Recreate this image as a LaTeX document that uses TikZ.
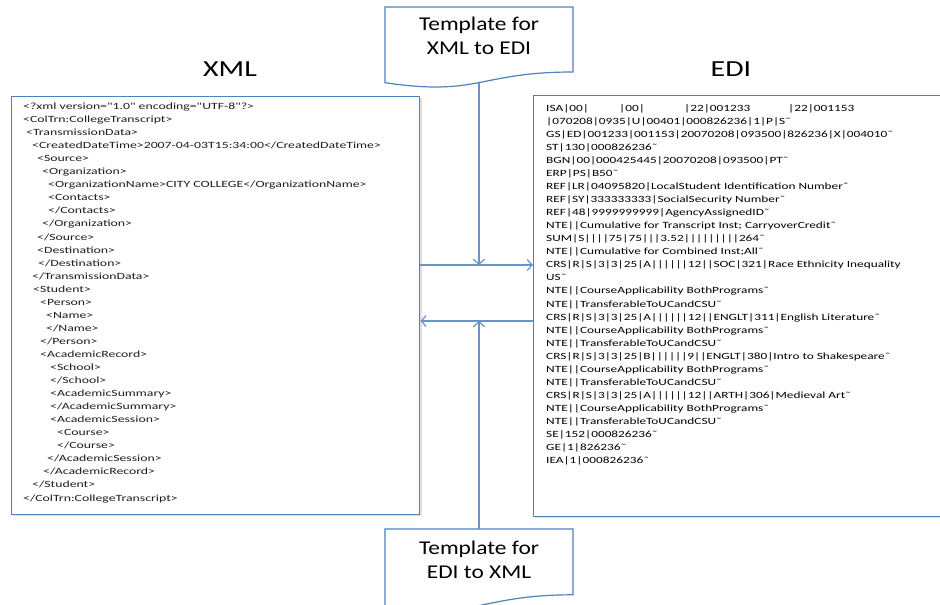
\documentclass[tikz,border=0pt]{standalone}
\usepackage{fontspec}
\usetikzlibrary{arrows.meta}
\newfontfamily\xmlfont[FakeStretch=1.45]{Carlito}
\newfontfamily\edifont[FakeStretch=1.4]{Carlito}
\newfontfamily\titlefont[FakeStretch=1.3]{Carlito}
\newfontfamily\tplfont[FakeStretch=1.2]{Carlito}
\definecolor{boxblue}{RGB}{79,129,189}
\definecolor{txt}{RGB}{30,30,30}
\newcommand\xl[3]{\node[xmltext] (x#1) at (#2,{109.5+(#1-1)*13.05}) {#3};}
\newcommand\el[2]{\node[editext] (e#1) at (546,{111+(#1-1)*13.07}) {#2};}
\begin{document}
\begin{tikzpicture}[x=1pt,y=-1pt,
  xmltext/.style={anchor=base west,inner sep=0pt,text=txt,font=\xmlfont\fontsize{9.5}{11}\selectfont},
  editext/.style={anchor=base west,inner sep=0pt,text=black,font=\edifont\fontsize{9.5}{11}\selectfont},
  titletext/.style={anchor=base,inner sep=0pt,text=black,font=\titlefont\fontsize{23}{26}\selectfont},
  tpltext/.style={align=center,inner sep=0pt,text=black,font=\tplfont\fontsize{19.5}{24}\selectfont},
  panel/.style={draw=boxblue,line width=1.4pt,fill=white,anchor=north west,inner sep=0pt},
  docshape/.style={draw=boxblue,line width=1.2pt,fill=white},
  conn/.style={draw=boxblue!85,line width=1.2pt},
  tip/.style={-{Straight Barb[length=5pt,width=11pt,line width=1.2pt]}}
]
\useasboundingbox (0,0) rectangle (940,605);
\clip (0,0) rectangle (940,605);
\fill[white] (0,0) rectangle (940,605);

% titles
\node[titletext] (txml) at (230,76) {XML};
\node[titletext] (tedi) at (731,76) {EDI};

% panels
\fill[black!12] (13,98) rectangle (422,516);
\fill[black!12] (535,97) rectangle (950,518);
\node[panel,minimum width=408pt,minimum height=418pt] (xmlbox) at (11,96) {};
\node[panel,minimum width=420pt,minimum height=421pt] (edibox) at (533,95) {};

% document shapes
\draw[docshape] (385,7) -- (573,7) -- (573,72) .. controls (479,72) and (479,96.7) .. (385,82.7) -- cycle;
\draw[docshape] (385,529) -- (573,529) -- (573,594.8) .. controls (479,594.8) and (479,619.9) .. (385,605.6) -- cycle;
\node[tpltext] (tpl1) at (479,36) {Template for\\XML to EDI};
\node[tpltext] (tpl2) at (479,560) {Template for\\EDI to XML};
\coordinate (d1) at (479,83);
\coordinate (d2) at (479,529);
\coordinate (j1) at (479,265);
\coordinate (j2) at (479,321);

% connectors
\draw[conn,tip] (xmlbox.east |- j1) -- (edibox.west |- j1);
\draw[conn,tip] (edibox.west |- j2) -- (xmlbox.east |- j2);
\draw[conn,tip] (d1) -- (j1);
\draw[conn,tip] (d2) -- (j2);

% XML text
\xl{1}{23}{<?xml version="1.0" encoding="UTF-8"?>}
\xl{2}{23}{<ColTrn:CollegeTranscript>}
\xl{3}{26}{<TransmissionData>}
\xl{4}{32}{<CreatedDateTime>2007-04-03T15:34:00</CreatedDateTime>}
\xl{5}{37}{<Source>}
\xl{6}{42}{<Organization>}
\xl{7}{48}{<OrganizationName>CITY COLLEGE</OrganizationName>}
\xl{8}{48}{<Contacts>}
\xl{9}{48}{</Contacts>}
\xl{10}{42}{</Organization>}
\xl{11}{37}{</Source>}
\xl{12}{37}{<Destination>}
\xl{13}{38}{</Destination>}
\xl{14}{32}{</TransmissionData>}
\xl{15}{33}{<Student>}
\xl{16}{40}{<Person>}
\xl{17}{46}{<Name>}
\xl{18}{46}{</Name>}
\xl{19}{40}{</Person>}
\xl{20}{40}{<AcademicRecord>}
\xl{21}{50}{<School>}
\xl{22}{50}{</School>}
\xl{23}{50}{<AcademicSummary>}
\xl{24}{50}{</AcademicSummary>}
\xl{25}{50}{<AcademicSession>}
\xl{26}{57}{<Course>}
\xl{27}{57}{</Course>}
\xl{28}{47}{</AcademicSession>}
\xl{29}{43}{</AcademicRecord>}
\xl{30}{32}{</Student>}
\xl{31}{23}{</ColTrn:CollegeTranscript>}

% EDI text
\el{1}{\rlap{ISA|00|}\hspace*{73pt}\rlap{|00|}\hspace*{65pt}\rlap{|22|001233}\hspace*{104pt}|22|001153}
\el{2}{|070208|0935|U|00401|000826236|1|P|S˜}
\el{3}{GS|ED|001233|001153|20070208|093500|826236|X|004010˜}
\el{4}{ST|130|000826236˜}
\el{5}{BGN|00|000425445|20070208|093500|PT˜}
\el{6}{ERP|PS|B50˜}
\el{7}{REF|LR|04095820|LocalStudent Identification Number˜}
\el{8}{REF|SY|333333333|SocialSecurity Number˜}
\el{9}{REF|48|9999999999|AgencyAssignedID˜}
\el{10}{NTE||Cumulative for Transcript Inst; CarryoverCredit˜}
\el{11}{SUM|S||||75|75|||3.52|||||||||264˜}
\el{12}{NTE||Cumulative for Combined Inst;All˜}
\el{13}{CRS|R|S|3|3|25|A||||||12||SOC|321|Race Ethnicity Inequality}
\el{14}{US˜}
\el{15}{NTE||CourseApplicability BothPrograms˜}
\el{16}{NTE||TransferableToUCandCSU˜}
\el{17}{CRS|R|S|3|3|25|A||||||12||ENGLT|311|English Literature˜}
\el{18}{NTE||CourseApplicability BothPrograms˜}
\el{19}{NTE||TransferableToUCandCSU˜}
\el{20}{CRS|R|S|3|3|25|B||||||9||ENGLT|380|Intro to Shakespeare˜}
\el{21}{NTE||CourseApplicability BothPrograms˜}
\el{22}{NTE||TransferableToUCandCSU˜}
\el{23}{CRS|R|S|3|3|25|A||||||12||ARTH|306|Medieval Art˜}
\el{24}{NTE||CourseApplicability BothPrograms˜}
\el{25}{NTE||TransferableToUCandCSU˜}
\el{26}{SE|152|000826236˜}
\el{27}{GE|1|826236˜}
\el{28}{IEA|1|000826236˜}
\end{tikzpicture}
\end{document}
